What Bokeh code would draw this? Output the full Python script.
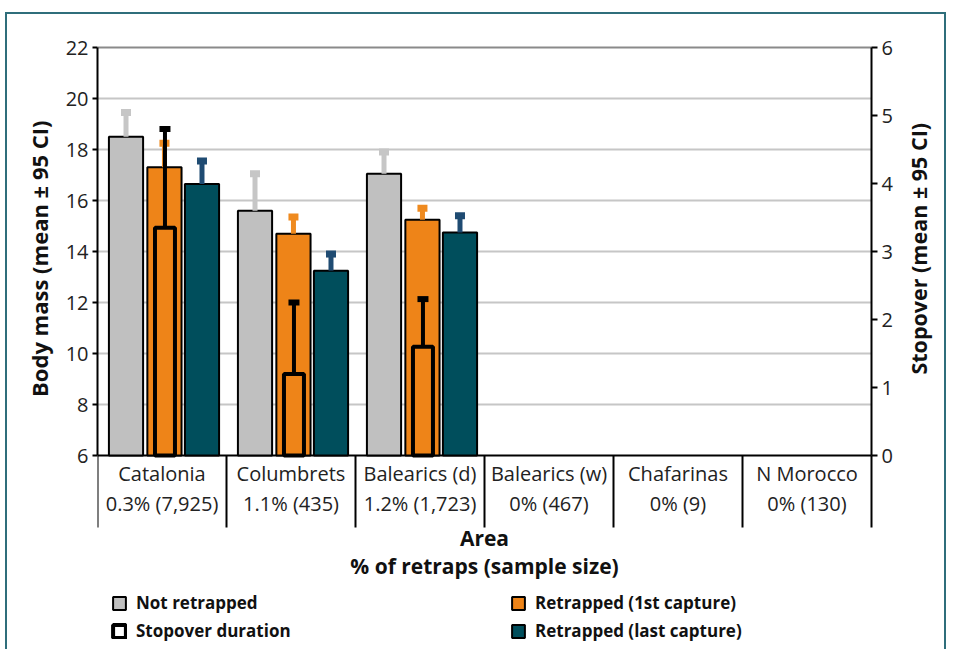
import math
from bokeh.plotting import figure
from bokeh.models import (Range1d, LinearAxis, FixedTicker, Label,
                          ColumnDataSource, Legend, LegendItem)
from bokeh.core.properties import value
from bokeh.embed import file_html
from bokeh.resources import INLINE

# ---------------- data ----------------
areas = ["Catalonia", "Columbrets", "Balearics (d)", "Balearics (w)", "Chafarinas", "N Morocco"]
retrap_pct = ["0.3%", "1.1%", "1.2%", "0%", "0%", "0%"]
sample_size = ["7,925", "435", "1,723", "467", "9", "130"]

# body mass (left axis) for areas with retraps
not_retrapped = [18.5, 15.6, 17.05]
not_retrapped_ci = [19.45, 17.05, 17.9]
retrap_first = [17.3, 14.7, 15.25]
retrap_first_ci = [18.25, 15.35, 15.7]
retrap_last = [16.65, 13.25, 14.75]
retrap_last_ci = [17.55, 13.9, 15.4]
# stopover duration (right axis)
stopover = [3.35, 1.2, 1.6]
stopover_ci = [4.8, 2.25, 2.3]

left_ticks = [6, 8, 10, 12, 14, 16, 18, 20, 22]
right_ticks = [0, 1, 2, 3, 4, 5, 6]

# ---------------- styling ----------------
GRAY = "#c0c0c0"
ORANGE = "#ee8418"
TEAL = "#004e5c"
GRAY_ERR = "#c6c6c6"
ORANGE_ERR = "#ef8a1f"
TEAL_ERR = "#1f4b72"
FONT = "Open Sans"
FRAME_COL = "#2f6e7b"

W, H = 941, 637
ML = 90
TOP_GAP = 33                      # pixels of frame above the value axes
PLOT_W = 774                      # pixel width of the six categories
AXIS_H = 408                      # pixel height of the value-axis span
YMIN, YMAX = 6, 22
RMIN, RMAX = 0, 6
NCAT = len(areas)
PPU = AXIS_H / (YMAX - YMIN)
RPPU = AXIS_H / (RMAX - RMIN)
PPX = PLOT_W / NCAT
EXTRA = H - TOP_GAP - AXIS_H      # pixels of frame below the value axes


def px_below(px):
    """data y (left scale) for a point px pixels below the baseline"""
    return YMIN - px / PPU


def pad(px, size):
    """non-breaking spaces that shift a centred axis title by px/2"""
    return "\u00a0" * round(px / (0.26 * size))


p = figure(width=W, height=H,
           x_range=Range1d(0, (W - ML) / PPX),
           y_range=Range1d(YMIN - EXTRA / PPU, YMAX + TOP_GAP / PPU),
           x_axis_location=None,
           output_backend="svg", toolbar_location=None,
           min_border_left=ML, min_border_right=0, min_border_top=0, min_border_bottom=0)
p.styles = {"border-top": f"2px solid {FRAME_COL}", "border-left": f"2px solid {FRAME_COL}",
            "border-right": f"2px solid {FRAME_COL}", "margin-left": "5px", "margin-top": "12px"}
p.outline_line_color = None
p.extra_y_ranges = {"stop": Range1d(RMIN - EXTRA / RPPU, RMAX + TOP_GAP / RPPU)}
p.xgrid.visible = False
p.ygrid.visible = False

# horizontal grid lines and top border line (span the six categories)
grid_y = left_ticks[1:-1]
p.segment(x0=[0] * len(grid_y), y0=grid_y, x1=[NCAT] * len(grid_y), y1=grid_y,
          line_color="#c6c6c6", line_width=2)
p.segment(x0=[0], y0=[YMAX], x1=[NCAT], y1=[YMAX], line_color="#8a8a8a", line_width=2)


def style_value_axis(ax, tick_out):
    ax.axis_line_width = 2
    ax.major_tick_line_width = 2
    ax.major_tick_out = tick_out
    ax.major_tick_in = 0
    ax.minor_tick_line_color = None
    ax.major_label_text_font = FONT
    ax.major_label_text_font_size = "20px"
    ax.major_label_text_color = "#222222"
    ax.axis_label_text_font = FONT
    ax.axis_label_text_font_style = "bold"
    ax.axis_label_text_font_size = "22px"
    ax.axis_label_text_color = "#111111"


# left axis
ya = p.yaxis[0]
ya.bounds = (YMIN, YMAX)
ya.ticker = FixedTicker(ticks=left_ticks)
style_value_axis(ya, 5)
ya.axis_label = pad(151, 22) + "Body mass (mean \u00b1 95 CI)"
ya.major_label_standoff = 4
ya.axis_label_standoff = 9

# right axis, placed at the right edge of the six categories
ra = LinearAxis(y_range_name="stop", ticker=FixedTicker(ticks=right_ticks),
                bounds=(RMIN, RMAX), fixed_location=NCAT)
style_value_axis(ra, 6)
ra.major_label_standoff = 4
p.add_layout(ra, "right")
p.add_layout(Label(x=NCAT + 47 / PPX, y=3.04, y_range_name="stop",
                   text="Stopover (mean \u00b1 95 CI)", angle=math.pi / 2,
                   text_align="center", text_baseline="middle", text_font=FONT,
                   text_font_style="bold", text_font_size="21.5px", text_color="#111111"))

# category axis: baseline and dividers
div_x = list(range(NCAT + 1))
p.segment(x0=[0], y0=[YMIN], x1=[NCAT], y1=[YMIN], line_color="black", line_width=2)
p.segment(x0=div_x, y0=[YMIN] * len(div_x), x1=div_x, y1=[px_below(72)] * len(div_x),
          line_color="black", line_width=2)

# ---------------- bars ----------------
n = len(not_retrapped)
centers = [i + 0.5 for i in range(n)]
OFF = {"nr": -0.279, "first": 0.019, "last": 0.31}
BW = 0.265

series = [
    ("nr", not_retrapped, not_retrapped_ci, GRAY, GRAY_ERR),
    ("first", retrap_first, retrap_first_ci, ORANGE, ORANGE_ERR),
    ("last", retrap_last, retrap_last_ci, TEAL, TEAL_ERR),
]
renderers = {}
for key, vals, ci, col, ecol in series:
    xs = [c + OFF[key] for c in centers]
    r = p.vbar(x=xs, top=vals, bottom=YMIN, width=BW, fill_color=col,
               line_color="black", line_width=2)
    renderers[key] = r
    p.segment(x0=xs, y0=vals, x1=xs, y1=ci, line_color=ecol, line_width=5)
    p.rect(x=xs, y=ci, width=10, height=7, width_units="screen", height_units="screen",
           fill_color=ecol, line_color=None)

# stopover duration bars (right axis), drawn over the orange bars
xs_s = [c + OFF["first"] + 0.004 for c in centers]
rs = p.vbar(x=xs_s, top=stopover, bottom=RMIN, width=0.155, fill_alpha=0,
            line_color="black", line_width=4, y_range_name="stop")
p.segment(x0=xs_s, y0=stopover, x1=xs_s, y1=stopover_ci, line_color="black",
          line_width=4, y_range_name="stop")
p.rect(x=xs_s, y=stopover_ci, width=11, height=6, width_units="screen", height_units="screen",
       fill_color="black", line_color=None, y_range_name="stop")

# ---------------- category labels ----------------
lab_src = ColumnDataSource(dict(
    x=[i + 0.5 for i in range(NCAT)],
    y1=[px_below(18)] * NCAT,
    y2=[px_below(48)] * NCAT,
    name=areas,
    info=[f"{a} ({b})" for a, b in zip(retrap_pct, sample_size)],
))
for ycol, tcol in (("y1", "name"), ("y2", "info")):
    p.text(x="x", y=ycol, text=tcol, source=lab_src, text_align="center",
           text_baseline="middle", text_font=value(FONT),
           text_font_size="20px", text_color="#222222")

for txt, off in (("Area", 82), ("% of retraps (sample size)", 110)):
    p.add_layout(Label(x=NCAT / 2, y=px_below(off), text=txt, text_align="center",
                       text_baseline="middle", text_font=FONT, text_font_style="bold",
                       text_font_size="21px", text_color="#111111"))

# ---------------- legends ----------------
def make_legend(items, loc):
    lg = Legend(items=items, location=loc, orientation="vertical",
                glyph_width=16, glyph_height=16, label_standoff=9, spacing=5,
                padding=0, margin=0, border_line_alpha=0, background_fill_alpha=0,
                label_text_font=FONT, label_text_font_style="bold",
                label_text_font_size="17px", label_text_color="#111111",
                label_height=17)
    p.add_layout(lg, "center")


make_legend([LegendItem(label="Not retrapped", renderers=[renderers["nr"]]),
             LegendItem(label="Stopover duration", renderers=[rs])], (14, 9))
make_legend([LegendItem(label="Retrapped (1st capture)", renderers=[renderers["first"]]),
             LegendItem(label="Retrapped (last capture)", renderers=[renderers["last"]])], (413, 9))

open("out.html", "w").write(file_html(p, INLINE))
